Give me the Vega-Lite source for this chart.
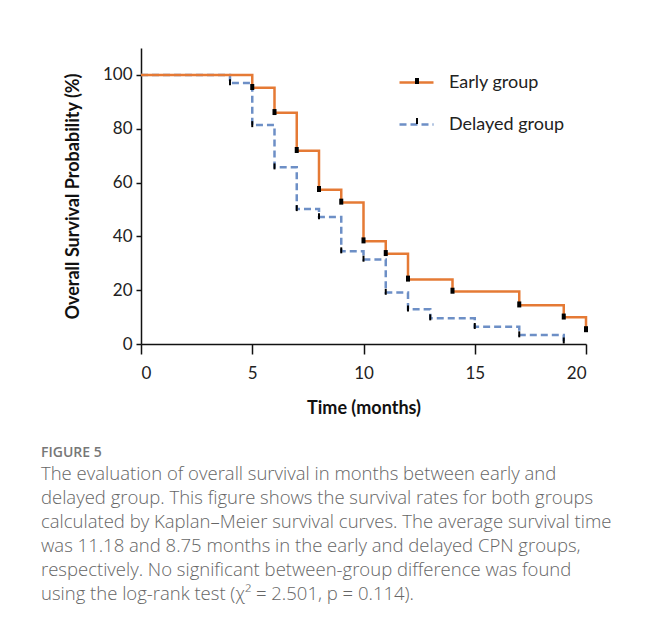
{
  "$schema": "https://vega.github.io/schema/vega-lite/v6.json",
  "autosize": "none",
  "width": 445,
  "height": 296,
  "padding": {"left": 141, "top": 48, "right": 60, "bottom": 286},
  "background": "white",
  "config": {
    "view": {"stroke": null},
    "axis": {
      "domainColor": "#111", "domainWidth": 1.5, "tickColor": "#111", "tickWidth": 1.5,
      "labelFont": "Lato", "labelFontSize": 17, "labelColor": "#222",
      "titleFont": "Lato", "titleFontSize": 18, "titleFontWeight": "bold", "titleColor": "#111",
      "grid": false
    },
    "legend": {
      "padding": 0, "labelFont": "Lato", "labelFontSize": 18, "labelColor": "#222",
      "labelOffset": 14, "title": null
    }
  },
  "title": {
    "text": "FIGURE 5",
    "subtitle": [
      "The evaluation of overall survival in months between early and",
      "delayed group. This figure shows the survival rates for both groups",
      "calculated by Kaplan–Meier survival curves. The average survival time",
      "was 11.18 and 8.75 months in the early and delayed CPN groups,",
      "respectively. No significant between-group difference was found",
      "using the log-rank test (χ² = 2.501, p = 0.114)."
    ],
    "orient": "bottom", "anchor": "start", "frame": "group", "dx": -100, "offset": 29,
    "font": "Open Sans", "fontSize": 14, "fontWeight": 600, "color": "#777",
    "subtitleFont": "Open Sans", "subtitleFontSize": 18.5, "subtitleFontWeight": 300,
    "subtitleColor": "#666", "subtitleLineHeight": 24, "subtitlePadding": 5
  },
  "datasets": {
    "km": [
      {"group": "Delayed group", "t": 0, "s": 100},
      {"group": "Delayed group", "t": 4, "s": 97.0},
      {"group": "Delayed group", "t": 5, "s": 81.4},
      {"group": "Delayed group", "t": 6, "s": 65.7},
      {"group": "Delayed group", "t": 7, "s": 50.2},
      {"group": "Delayed group", "t": 8, "s": 47.2},
      {"group": "Delayed group", "t": 9, "s": 34.5},
      {"group": "Delayed group", "t": 10, "s": 31.4},
      {"group": "Delayed group", "t": 11, "s": 19.1},
      {"group": "Delayed group", "t": 12, "s": 12.9},
      {"group": "Delayed group", "t": 13, "s": 9.6},
      {"group": "Delayed group", "t": 15, "s": 6.4},
      {"group": "Delayed group", "t": 17, "s": 3.3},
      {"group": "Delayed group", "t": 19, "s": 0},
      {"group": "Early group", "t": 0, "s": 100},
      {"group": "Early group", "t": 5, "s": 95.2},
      {"group": "Early group", "t": 6, "s": 85.9},
      {"group": "Early group", "t": 7, "s": 71.8},
      {"group": "Early group", "t": 8, "s": 57.3},
      {"group": "Early group", "t": 9, "s": 52.6},
      {"group": "Early group", "t": 10, "s": 38.2},
      {"group": "Early group", "t": 11, "s": 33.5},
      {"group": "Early group", "t": 12, "s": 24.0},
      {"group": "Early group", "t": 14, "s": 19.5},
      {"group": "Early group", "t": 17, "s": 14.4},
      {"group": "Early group", "t": 19, "s": 9.9},
      {"group": "Early group", "t": 20, "s": 5.5}
    ],
    "cens": [
      {"cg": "Delayed", "t": 4, "s": 97.3},
      {"cg": "Delayed", "t": 5, "s": 81.7},
      {"cg": "Delayed", "t": 6, "s": 66.0},
      {"cg": "Delayed", "t": 7, "s": 50.5},
      {"cg": "Delayed", "t": 8, "s": 47.5},
      {"cg": "Delayed", "t": 9, "s": 34.8},
      {"cg": "Delayed", "t": 10, "s": 31.7},
      {"cg": "Delayed", "t": 11, "s": 19.4},
      {"cg": "Delayed", "t": 12, "s": 13.2},
      {"cg": "Delayed", "t": 13, "s": 9.9},
      {"cg": "Delayed", "t": 15, "s": 6.7},
      {"cg": "Delayed", "t": 17, "s": 3.6},
      {"cg": "Delayed", "t": 19, "s": 1.3},
      {"cg": "Early", "t": 5, "s": 95.5},
      {"cg": "Early", "t": 6, "s": 86.2},
      {"cg": "Early", "t": 7, "s": 72.1},
      {"cg": "Early", "t": 8, "s": 57.6},
      {"cg": "Early", "t": 9, "s": 52.9},
      {"cg": "Early", "t": 10, "s": 38.5},
      {"cg": "Early", "t": 11, "s": 33.8},
      {"cg": "Early", "t": 12, "s": 24.3},
      {"cg": "Early", "t": 14, "s": 19.8},
      {"cg": "Early", "t": 17, "s": 14.7},
      {"cg": "Early", "t": 19, "s": 10.2},
      {"cg": "Early", "t": 20, "s": 5.5}
    ]
  },
  "layer": [
    {
      "data": {"name": "km"},
      "mark": {"type": "line", "interpolate": "step-after", "strokeWidth": 2.5},
      "encoding": {
        "x": {"field": "t", "type": "quantitative",
              "scale": {"domain": [0, 20], "nice": false, "zero": false},
              "axis": {"values": [0, 5, 10, 15, 20], "title": "Time (months)", "tickSize": 10,
                       "labelPadding": 11, "titlePadding": 18}},
        "y": {"field": "s", "type": "quantitative",
              "scale": {"domain": [0, 110], "nice": false},
              "axis": {"values": [0, 20, 40, 60, 80, 100], "title": "Overall Survival Probability (%)",
                       "tickSize": 5, "labelPadding": 4, "titlePadding": 20}},
        "color": {"field": "group", "type": "nominal",
                  "scale": {"domain": ["Early group", "Delayed group"], "range": ["#E57A35", "#6D8FC6"]},
                  "legend": {"orient": "none", "legendX": 257, "legendY": 16, "symbolType": "stroke",
                             "symbolSize": 1156, "symbolStrokeWidth": 2.5, "rowPadding": 14}},
        "strokeDash": {"field": "group", "type": "nominal",
                       "scale": {"domain": ["Early group", "Delayed group"], "range": [[1, 0], [7, 4]]},
                       "legend": {"orient": "none", "legendX": 257, "legendY": 16, "symbolType": "stroke",
                                  "symbolSize": 1156, "symbolStrokeWidth": 2.5, "rowPadding": 14}},
        "order": {"field": "t", "type": "quantitative"}
      }
    },
    {
      "data": {"name": "cens"},
      "mark": {"type": "point", "filled": true, "color": "#000", "opacity": 1, "size": 36},
      "encoding": {
        "x": {"field": "t", "type": "quantitative"},
        "y": {"field": "s", "type": "quantitative"},
        "shape": {"field": "cg", "type": "nominal",
                  "scale": {"domain": ["Early", "Delayed"],
                            "range": ["M-0.67,-1H0.67V1H-0.67Z", "M-0.33,-1H0.33V1H-0.33Z"]},
                  "legend": {"orient": "none", "legendX": 267, "legendY": 24, "symbolSize": 36,
                             "symbolFillColor": "#000", "symbolStrokeWidth": 0, "symbolOpacity": 1,
                             "labelExpr": "' '", "labelOffset": 0, "rowPadding": 22}}
      }
    }
  ]
}
